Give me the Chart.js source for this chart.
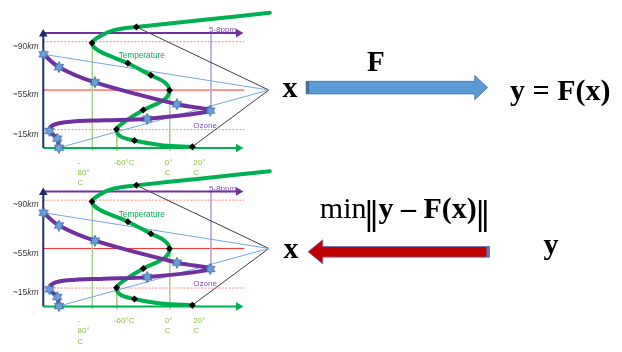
<!DOCTYPE html>
<html>
<head>
<meta charset="utf-8">
<title>Forward / inverse problem</title>
<script src="https://cdn.jsdelivr.net/npm/chart.js@4.4.1/dist/chart.umd.min.js"></script>
<style>
  html, body { margin: 0; padding: 0; background: #fff; }
  canvas { display: block; }
</style>
</head>
<body>
<canvas id="diagram" width="622" height="352"></canvas>
<script>
/* global Chart */
// Same profile drawn twice, second copy shifted down
const panelShift = [0, 164];

// Temperature profile (green) in diagram units, top to bottom
const tempPath = [[269, 7], [200, 14.5], [133, 21.7], [110, 25], [96.7, 30.7], [87.7, 38.3], [95, 46.7],
  [124.3, 59.3], [147.7, 71.7], [161.7, 79], [166.7, 87.3], [161.7, 96.7], [140, 107.7], [121.7, 119.3],
  [112.7, 127.7], [116.7, 135], [131, 139.3], [160, 144.3], [190, 145.7]];
const tempMarks = [[133, 21.7], [87.7, 38.3], [124.3, 59.3], [147.7, 71.7], [166.7, 87.3], [140, 107.7],
  [112.7, 127.7], [131, 139.3], [190, 145.7]];

// Ozone profile (purple)
const ozonePath = [[38.3, 50], [54, 63.3], [90.7, 79], [174.3, 101.7], [208.3, 108.3], [144, 116.7],
  [100, 118.3], [63, 120], [48, 123.3], [44.3, 129.3], [52.3, 137.3], [54, 146.7]];
const ozoneMarks = [[38.3, 50], [54, 63.3], [90.7, 79], [174.3, 101.7], [208.3, 108.3], [144, 116.7],
  [44.3, 129.3], [52.3, 137.3], [54, 146.7]];

// Altitude levels (~90, ~55, ~15 km)
const levelY = [37, 87, 128];
const levelText = ["~90", "~55", "~15"];

// Temperature guide lines and their labels
const tempGridX = [88, 113, 167, 191];
const tempGridTop = [38.3, 127.7, 87.3, 145.7];
const tempTickX = [73, 110, 162, 191];
const tempTickText = [["-", "80°", "C"], ["-60°C"], ["0°", "C"], ["20°", "C"]];

// Axes
const axisOrigin = [38, 147];
const axisTop = 29;
const axisRight = 237;
const ppmY = 28;
const ppmX = 209;
const apex = [268, 87];

// Block arrows on the right: tail x, tip x, centre y
const forwardArrow = [306, 491, 84.5];
const inverseArrow = [493, 308, 254.5];

function starImage(size) {
  const c = document.createElement("canvas");
  c.width = c.height = size;
  const g = c.getContext("2d");
  const m = size / 2, r1 = size / 2 - 0.6, r2 = r1 * 0.55;
  g.beginPath();
  for (let i = 0; i < 12; i++) {
    const a = (Math.PI / 6) * i - Math.PI / 2;
    const r = i % 2 ? r2 : r1;
    g.lineTo(m + r * Math.cos(a), m + r * Math.sin(a));
  }
  g.closePath();
  g.fillStyle = "#6A9FD8";
  g.fill();
  g.strokeStyle = "#2E5C9A";
  g.lineWidth = 0.8;
  g.stroke();
  return c;
}
const star = starImage(12);

function line(points, shift, color, width, extra) {
  return Object.assign({
    showLine: true,
    data: points.map(([x, y]) => ({ x, y: y + shift })),
    borderColor: color,
    borderWidth: width,
    pointRadius: 0,
    fill: false,
    clip: false,
  }, extra || {});
}

function arrowLine(points, shift, color, rot) {
  return line(points, shift, color, 2, {
    pointRadius: [0, 5], pointStyle: "triangle", rotation: rot,
    pointBackgroundColor: color, pointBorderColor: color, pointBorderWidth: 0, order: 15,
  });
}

const datasets = [];
panelShift.forEach((s) => {
  levelY.forEach((ly, i) => {
    datasets.push(line([[axisOrigin[0], ly], [243, ly]], s, i === 1 ? "#FF2A2A" : "#FF8080", 1,
      { borderDash: i === 1 ? [] : [2, 1.5], order: 20 }));
  });
  tempGridX.forEach((gx, i) => {
    datasets.push(line([[gx, tempGridTop[i]], [gx, axisOrigin[1] + 3]], s, "#A6D18A", 1, { order: 19 }));
  });
  datasets.push(line([[ppmX, ppmY], [ppmX, ozoneMarks[4][1]]], s, "#BBA9D6", 1, { order: 19 }));
  datasets.push(line([ozoneMarks[0], apex], s, "#76A7DC", 1, { order: 18 }));
  datasets.push(line([ozoneMarks[ozoneMarks.length - 1], apex], s, "#76A7DC", 1, { order: 18 }));
  datasets.push(line([tempMarks[0], apex], s, "#3C3C3C", 1, { order: 18 }));
  datasets.push(line([tempMarks[tempMarks.length - 1], apex], s, "#3C3C3C", 1, { order: 18 }));

  datasets.push(arrowLine([axisOrigin, [axisOrigin[0], axisTop]], s, "#1F2F66", 0));
  datasets.push(arrowLine([axisOrigin, [axisRight, axisOrigin[1]]], s, "#00B050", 90));
  datasets.push(arrowLine([[axisOrigin[0], ppmY], [axisRight, ppmY]], s, "#7030A0", 90));

  datasets.push(line(tempPath, s, "#00B050", 4, { tension: 0.35, order: 6, borderCapStyle: "round" }));
  datasets.push(line(ozonePath, s, "#7030A0", 4, { tension: 0.35, order: 5, borderCapStyle: "round" }));

  datasets.push(line(tempMarks, s, "#000", 0, {
    showLine: false, pointRadius: 3.5, pointStyle: "rectRot",
    pointBackgroundColor: "#000", pointBorderColor: "#000", order: 2,
  }));
  datasets.push(line(ozoneMarks, s, "#000", 0, { showLine: false, pointStyle: star, pointRadius: 6, order: 1 }));
});

function blockArrow(ctx, px, py, spec, fill, edge) {
  const [tail, tip, cy] = spec;
  const d = Math.sign(tip - tail);
  const headL = d > 0 ? 13 : 15;
  const sh = d > 0 ? 6.5 : 5.5, hh = 12.5;
  const neck = tip - d * headL;
  ctx.beginPath();
  ctx.moveTo(px(tail), py(cy - sh));
  ctx.lineTo(px(neck), py(cy - sh));
  ctx.lineTo(px(neck), py(cy - hh));
  ctx.lineTo(px(tip), py(cy));
  ctx.lineTo(px(neck), py(cy + hh));
  ctx.lineTo(px(neck), py(cy + sh));
  ctx.lineTo(px(tail), py(cy + sh));
  ctx.closePath();
  ctx.fillStyle = fill;
  ctx.fill();
  ctx.lineWidth = 0.8;
  ctx.strokeStyle = edge;
  ctx.stroke();
  // darker end cap on the tail
  ctx.fillStyle = edge;
  const capW = 3;
  ctx.fillRect(d > 0 ? px(tail) : px(tail) - capW, py(cy - sh), capW, py(cy + sh) - py(cy - sh));
}

const labelPlugin = {
  id: "labels",
  afterDatasetsDraw(chart) {
    const { ctx, scales } = chart;
    const px = (v) => scales.x.getPixelForValue(v);
    const py = (v) => scales.y.getPixelForValue(v);
    ctx.save();
    ctx.textAlign = "left";

    panelShift.forEach((s) => {
      ctx.textBaseline = "middle";
      levelText.forEach((t, i) => {
        const y = py(levelY[i] + s + 5);
        ctx.fillStyle = "#3A3A3A";
        ctx.font = "8.5px 'Liberation Sans'";
        ctx.fillText(t, px(7), y);
        const w = ctx.measureText(t).width;
        ctx.font = "italic 8.5px 'Liberation Sans'";
        ctx.fillText("km", px(7) + w, y);
      });
      ctx.font = "8.2px 'Liberation Sans'";
      ctx.fillStyle = "#00B050";
      ctx.fillText("Temperature", px(115), py(52 + s));
      ctx.font = "8px 'Liberation Sans'";
      ctx.fillStyle = "#8050B8";
      ctx.fillText("Ozone", px(191), py(124 + s));
      ctx.fillText("5-8ppm", px(207), py(25 + s));

      ctx.fillStyle = "#8DBE45";
      ctx.font = "8px 'Liberation Sans'";
      ctx.textBaseline = "top";
      tempTickText.forEach((lines, i) => {
        lines.forEach((t, k) => ctx.fillText(t, px(tempTickX[i]), py(158 + s + k * 10.5)));
      });
    });

    blockArrow(ctx, px, py, forwardArrow, "#5B9BD5", "#41719C");
    blockArrow(ctx, px, py, inverseArrow, "#C00000", "#5A78B8");

    ctx.textBaseline = "alphabetic";
    ctx.fillStyle = "#000";
    const bold = "bold 30px 'Liberation Serif'";
    ctx.font = bold;
    ctx.fillText("x", px(282), py(94));
    ctx.fillText("x", px(283), py(261));
    ctx.fillText("y", px(548), py(257));
    ctx.font = "bold 29px 'Liberation Serif'";
    ctx.fillText("F", px(368), py(67));
    ctx.font = bold;
    ctx.fillText("y = F(x)", px(514), py(97));

    // min ||y - F(x)||
    let x = px(320);
    const base = py(219);
    ctx.font = "30px 'Liberation Serif'";
    ctx.fillText("min", x, base);
    x += ctx.measureText("min").width;
    ctx.font = "32px 'DejaVu Serif'";
    ctx.fillText("\u2016", x - 3, base + 6);
    x += ctx.measureText("\u2016").width - 4;
    ctx.font = bold;
    ctx.fillText("y \u2013 F(x)", x, base);
    x += ctx.measureText("y \u2013 F(x)").width;
    ctx.font = "32px 'DejaVu Serif'";
    ctx.fillText("\u2016", x - 2, base + 6);
    ctx.restore();
  },
};

new Chart(document.getElementById("diagram"), {
  type: "scatter",
  data: { datasets },
  options: {
    responsive: false,
    animation: false,
    devicePixelRatio: 1,
    events: [],
    layout: { padding: 0 },
    plugins: { legend: { display: false }, tooltip: { enabled: false } },
    scales: {
      x: { type: "linear", min: 0, max: 622, display: false },
      y: { type: "linear", min: 0, max: 352, reverse: true, display: false },
    },
  },
  plugins: [labelPlugin],
});
</script>
</body>
</html>
